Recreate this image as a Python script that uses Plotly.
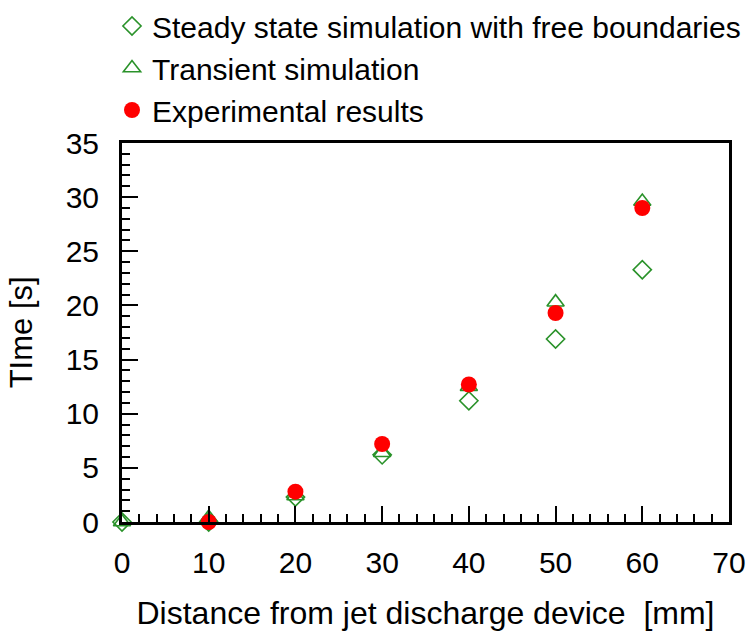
import plotly.graph_objects as go

# Distance from the jet discharge device [mm]
distance_sim = [0, 10, 20, 30, 40, 50, 60]
distance_exp = [10, 20, 30, 40, 50, 60]

# Time [s]
steady_time = [0.0, 0.0, 2.3, 6.2, 11.2, 16.9, 23.3]
transient_time = [0.0, 0.4, 2.4, 6.4, 12.5, 20.3, 29.6]
experimental_time = [0.0, 2.8, 7.2, 12.7, 19.3, 29.0]

x_ticks = [0, 10, 20, 30, 40, 50, 60, 70]
y_ticks = [0, 5, 10, 15, 20, 25, 30, 35]

GREEN = "#2a922a"
RED = "#ff0000"
FONT = "Liberation Sans, Arial, sans-serif"

fig = go.Figure()

fig.add_trace(go.Scatter(
    x=distance_sim, y=steady_time, mode="markers",
    name="Steady state simulation with free boundaries",
    marker=dict(symbol="diamond-open", size=14, color=GREEN, line=dict(width=1.6, color=GREEN)),
    cliponaxis=False,
))
fig.add_trace(go.Scatter(
    x=distance_sim, y=transient_time, mode="markers",
    name="Transient simulation",
    marker=dict(symbol="triangle-up-open", size=15, color=GREEN, line=dict(width=1.6, color=GREEN)),
    cliponaxis=False,
))
fig.add_trace(go.Scatter(
    x=distance_exp, y=experimental_time, mode="markers",
    name="Experimental results",
    marker=dict(symbol="circle", size=16, color=RED, line=dict(width=0)),
    cliponaxis=False,
))

axis_common = dict(
    showline=True, linecolor="black", linewidth=3, mirror=True,
    ticks="inside", ticklen=16, tickwidth=2, tickcolor="black",
    showgrid=False, zeroline=False,
    tickfont=dict(family=FONT, size=30, color="black"),
)

fig.update_xaxes(
    range=[0, 70], tickvals=x_ticks,
    minor=dict(ticks="inside", ticklen=8, tickwidth=1.5, tickcolor="black", dtick=2, showgrid=False),
    title=dict(text="Distance from jet discharge device  [mm]", standoff=24,
               font=dict(family=FONT, size=32, color="black")),
    ticklabelstandoff=12,
    **axis_common,
)
fig.update_yaxes(
    range=[0, 35], tickvals=y_ticks,
    minor=dict(ticks="inside", ticklen=8, tickwidth=1.5, tickcolor="black", dtick=1, showgrid=False),
    ticklabelstandoff=14,
    **axis_common,
)

# Vertical axis title
fig.add_annotation(
    text="TIme [s]", textangle=-90,
    xref="paper", yref="paper", x=-0.165, y=0.5,
    xanchor="center", yanchor="middle", showarrow=False,
    font=dict(family=FONT, size=31, color="black"),
)

fig.update_layout(
    width=748, height=632,
    margin=dict(l=122, r=19, t=143, b=110, autoexpand=False),
    paper_bgcolor="white", plot_bgcolor="white",
    font=dict(family=FONT, color="black"),
    showlegend=True,
    legend=dict(
        xref="container", yref="container",
        x=112 / 748, y=1.0, xanchor="left", yanchor="top",
        font=dict(family=FONT, size=30, color="black"),
        bgcolor="rgba(0,0,0,0)", borderwidth=0,
        traceorder="normal", itemsizing="trace",
    ),
)

fig.write_html("out.html")
